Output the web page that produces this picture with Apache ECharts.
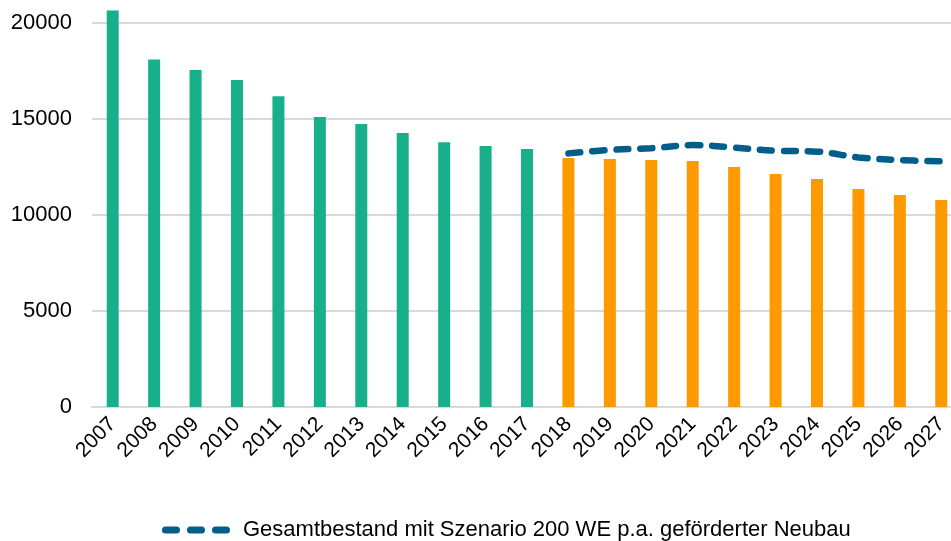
<!DOCTYPE html>
<html>
<head>
<meta charset="utf-8">
<script src="https://cdn.jsdelivr.net/npm/echarts@6/dist/echarts.min.js"></script>
<style>
  html, body { margin: 0; padding: 0; background: #fff; }
  #chart { width: 951px; height: 541px; }
</style>
</head>
<body>
<div id="chart"></div>
<script>
// Jahre und Werte
const years = ['2007', '2008', '2009', '2010', '2011', '2012', '2013', '2014', '2015', '2016', '2017',
  '2018', '2019', '2020', '2021', '2022', '2023', '2024', '2025', '2026', '2027']
const bestandIst = [20650, 18100, 17550, 17030, 16180, 15100, 14740, 14270, 13790, 13600, 13440]
const bestandPrognose = [12970, 12920, 12860, 12810, 12500, 12140, 11880, 11360, 11040, 10780]
const szenario200 = [13210, 13390, 13480, 13640, 13510, 13350, 13300, 13000, 12860, 12800]
const yTicks = [0, 5000, 10000, 15000, 20000]

const lineName = 'Gesamtbestand mit Szenario 200 WE p.a. geförderter Neubau'

const chart = echarts.init(document.getElementById('chart'), null, { renderer: 'canvas' })

// Balken: Ist grün, Prognose orange
const barData = bestandIst.map(v => ({ value: v, itemStyle: { color: '#17b08a' } }))
  .concat(bestandPrognose.map(v => ({ value: v, itemStyle: { color: '#ff9900' } })))

// Linie beginnt erst bei 2018
const lineData = bestandIst.map(() => '-').concat(szenario200)

// drei abgerundete Striche als Legendensymbol
const dashIcon = 'path://M3.5,0h11a3.5,3.5 0 0 1 0,7h-11a3.5,3.5 0 0 1 0,-7z' +
  'M28.5,0h11a3.5,3.5 0 0 1 0,7h-11a3.5,3.5 0 0 1 0,-7z' +
  'M53.5,0h11a3.5,3.5 0 0 1 0,7h-11a3.5,3.5 0 0 1 0,-7z'

const option = {
  animation: false,
  grid: {
    left: 92,
    top: 23,
    width: 870,
    height: 384,
    outerBoundsMode: 'none',
    containLabel: false
  },
  legend: {
    data: [{ name: lineName, icon: dashIcon }],
    left: 162,
    top: 519,
    padding: 0,
    itemWidth: 68,
    itemHeight: 7,
    itemStyle: { color: '#005f8a' },
    textStyle: {
      fontFamily: 'Liberation Sans',
      fontSize: 22,
      color: '#000',
      padding: [0, 0, 0, 8]
    }
  },
  xAxis: {
    type: 'category',
    data: years,
    axisLine: { lineStyle: { color: '#d9d9d9', width: 2 } },
    axisTick: { show: false },
    axisLabel: {
      rotate: 45,
      margin: 14,
      interval: 0,
      fontFamily: 'Liberation Sans',
      fontSize: 21,
      color: '#000'
    }
  },
  yAxis: {
    type: 'value',
    min: yTicks[0],
    max: yTicks[yTicks.length - 1],
    interval: yTicks[1] - yTicks[0],
    axisLine: { show: false },
    axisTick: { show: false },
    splitLine: { lineStyle: { color: '#d9d9d9', width: 2 } },
    axisLabel: {
      margin: 20,
      fontFamily: 'Liberation Sans',
      fontSize: 22,
      color: '#000',
      formatter: v => String(v)
    }
  },
  series: [
    {
      name: 'Bestand',
      type: 'bar',
      data: barData,
      barWidth: 12,
      clip: false
    },
    {
      name: lineName,
      type: 'line',
      data: lineData,
      smooth: 0.4,
      symbol: 'none',
      clip: false,
      lineStyle: {
        color: '#005f8a',
        width: 6.5,
        type: [12, 12],
        cap: 'round'
      },
      itemStyle: { color: '#005f8a' }
    }
  ]
}

chart.setOption(option)
</script>
</body>
</html>
